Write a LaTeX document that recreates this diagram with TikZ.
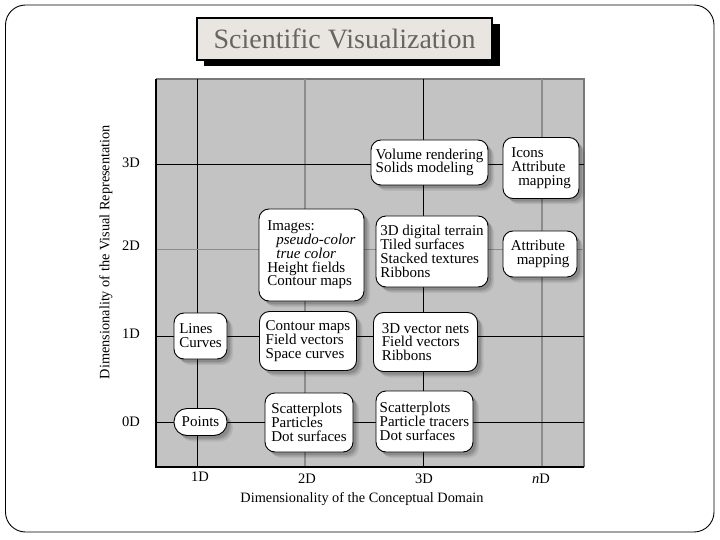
\documentclass[tikz,border=0pt]{standalone}
\usepackage{fontspec}
\setmainfont{Liberation Serif}
\usetikzlibrary{shadows}
\definecolor{plotgray}{RGB}{195,195,195}
\definecolor{gridlight}{RGB}{140,140,140}
\definecolor{titlefill}{RGB}{233,230,225}
\definecolor{titletext}{RGB}{105,100,96}
\definecolor{bordergray}{RGB}{120,120,120}
\tikzset{
  cell/.style={draw=black, line width=0.9pt, fill=white, rounded corners=10pt,
    align=left, inner sep=0pt, font=\fontsize{15}{13.8}\selectfont,
    drop shadow={shadow xshift=6pt, shadow yshift=-6pt, fill=black, opacity=0.07},
    drop shadow={shadow xshift=4.5pt, shadow yshift=-4.5pt, fill=black, opacity=0.1},
    drop shadow={shadow xshift=3pt, shadow yshift=-3pt, fill=black, opacity=0.14}},
  darkgrid/.style={black, line width=1pt},
  lightgrid/.style={gridlight, line width=1.2pt},
  ticklabel/.style={font=\fontsize{14.5}{16}\selectfont},
  axistitle/.style={font=\fontsize{14.3}{16}\selectfont}
}
\begin{document}
\begin{tikzpicture}[x=1pt,y=-1pt]
\useasboundingbox (0,0) rectangle (720,540);
% slide frame
\draw[black, line width=0.9pt, rounded corners=20pt] (5.5,5) rectangle (714,532);
% title
\fill[black] (204,24) rectangle (500,66);
\node[draw=black, line width=1.3pt, fill=titlefill, minimum width=295pt, minimum height=42pt,
  inner sep=0pt, text=titletext, font=\fontsize{28}{30}\selectfont] (title) at (344.5,39) {Scientific Visualization};
% plot area
\coordinate (tl) at (156,79);
\coordinate (br) at (584,467);
\fill[plotgray] (tl) rectangle (br);
\draw[bordergray, line width=1.5pt] (156,79) -- (584,79) -- (584,467);
% grid
\draw[darkgrid] (197,79) -- (197,467);
\draw[lightgrid] (305,79) -- (305,467);
\draw[darkgrid] (423,79) -- (423,467);
\draw[lightgrid] (542,79) -- (542,467);
\draw[darkgrid] (156,164.5) -- (584,164.5);
\draw[lightgrid, line width=1pt] (156,249.5) -- (584,249.5);
\draw[darkgrid] (156,336) -- (584,336);
\draw[darkgrid, line width=0.8pt] (156,422) -- (584,422);
% axes
\draw[black, line width=2pt] (156,79) -- (156,467) -- (584,467);
% tick labels
\node[ticklabel] (y3) at (131,162.5) {3D};
\node[ticklabel] (y2) at (131,246) {2D};
\node[ticklabel] (y1) at (131,334) {1D};
\node[ticklabel] (y0) at (131,422) {0D};
\node[ticklabel] (x1) at (200,477) {1D};
\node[ticklabel] (x2) at (307,479) {2D};
\node[ticklabel] (x3) at (424,479) {3D};
\node[ticklabel] (xn) at (541,479) {\textit{n}D};
\node[axistitle] (xt) at (362,499) {Dimensionality of the Conceptual Domain};
\node[axistitle, rotate=90] (yt) at (106,252) {Dimensionality of the Visual Representation};
% cells
\node[cell, minimum width=117pt, minimum height=45pt] (vol) at (429.5,162.5)
  {Volume rendering\\Solids modeling};
\node[cell, minimum width=76pt, minimum height=61pt] (icons) at (541,168)
  {Icons\\Attribute\\\hspace{7pt}mapping};
\node[cell, minimum width=105pt, minimum height=92pt] (images) at (311.5,255)
  {Images:\\\hspace{9pt}\textit{pseudo-color}\\\hspace{9pt}\textit{true color}\\Height fields\\Contour maps};
\node[cell, minimum width=112pt, minimum height=71pt] (terrain) at (432,251.5)
  {3D digital terrain\\Tiled surfaces\\Stacked textures\\Ribbons};
\node[cell, minimum width=74pt, minimum height=46pt] (attr) at (540,254)
  {Attribute\\\hspace{6pt}mapping};
\node[cell, minimum width=53pt, minimum height=46pt] (lines) at (200.5,336)
  {Lines\\Curves};
\node[cell, minimum width=97pt, minimum height=59pt] (contour) at (308,341)
  {Contour maps\\Field vectors\\Space curves};
\node[cell, minimum width=104pt, minimum height=59pt] (vector) at (425.5,342)
  {3D vector nets\\Field vectors\\Ribbons};
\node[cell, rounded corners=13pt, minimum width=53pt, minimum height=27pt] (points) at (200.5,422)
  {Points};
\node[cell, minimum width=88pt, minimum height=59pt] (scat2) at (309,422.5)
  {Scatterplots\\Particles\\Dot surfaces};
\node[cell, minimum width=97pt, minimum height=61pt] (scat3) at (424.5,421.5)
  {Scatterplots\\Particle tracers\\Dot surfaces};
\end{tikzpicture}
\end{document}
